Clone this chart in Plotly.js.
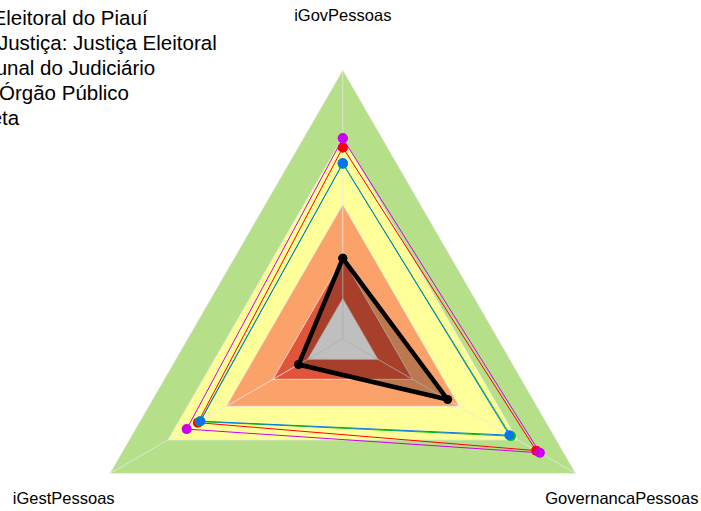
<!DOCTYPE html>
<html><head><meta charset="utf-8">
<script src="https://cdn.plot.ly/plotly-3.0.1.min.js"></script>
<style>html,body{margin:0;padding:0;overflow:hidden;background:#fff}#wrap{width:701px;height:511px;overflow:hidden;position:relative}</style>
</head><body><div id="wrap"><div id="chart"></div></div>
<script>
// axes (categories)
const categories = ['iGovPessoas', 'GovernancaPessoas', 'iGestPessoas'];
// series names (legend texts)
const seriesNames = [
  'Tribunal Regional Eleitoral do Piauí',
  'Média do ramo da Justiça: Justiça Eleitoral',
  'Média do tipo: Tribunal do Judiciário',
  'Natureza Jurídica: Órgão Público',
  'Valor desejado: Meta'
];
const seriesColors = ['#000000', '#FF0000', '#00C800', '#0A74F0', '#CC00EE'];
// series values, in the order of categories
const valuesTRE = [0.30, 0.45, 0.19];
const valuesJustica = [0.712, 0.83, 0.622];
const valuesTribunal = [0.652, 0.722, 0.614];
const valuesOrgao = [0.653, 0.715, 0.611];
const valuesMeta = [0.746, 0.846, 0.67];
// background bands (outer limit of each band)
const bandLimits = [1, 0.75, 0.5, 0.3, 0.15];
const bandColors = ['#B6DF8A', '#FFFF99', '#FBA16A', '#E0553A', '#FFFFFF'];
// radial position of the axis labels
const labelR = [1.198, 1.198, 1.198];

const seriesValues = [valuesTRE, valuesJustica, valuesTribunal, valuesOrgao, valuesMeta];
const closedTheta = categories.concat([categories[0]]);
const close = a => a.concat([a[0]]);

const traces = [];
// bands on the bottom polar subplot
bandLimits.forEach((b, i) => {
  traces.push({
    type: 'scatterpolar', subplot: 'polar', mode: 'lines',
    r: categories.map(() => b).concat([b]), theta: closedTheta,
    fill: 'toself', fillcolor: bandColors[i],
    line: {width: 0, color: bandColors[i]},
    hoverinfo: 'skip', showlegend: false
  });
});
// data on the middle polar subplot (its grid lies above the bands)
seriesValues.forEach((v, i) => {
  const isMain = i === 0;
  traces.push({
    type: 'scatterpolar', subplot: 'polar2', mode: 'lines+markers', name: seriesNames[i],
    r: close(v), theta: closedTheta,
    fill: isMain ? 'toself' : 'none',
    fillcolor: 'rgba(0,0,0,0.25)',
    line: {color: seriesColors[i], width: isMain ? 4.5 : 1},
    marker: {color: seriesColors[i], size: isMain ? 9 : 10},
    showlegend: false
  });
});
// axis labels drawn through a third (invisible) polar scale
traces.push({
  type: 'scatterpolar', subplot: 'polar3', mode: 'text',
  r: labelR, theta: categories,
  text: categories, textposition: 'middle center',
  textfont: {family: 'Liberation Sans, Arial, sans-serif', size: 16.5, color: '#000'},
  cliponaxis: false, hoverinfo: 'skip', showlegend: false
});

const W = 701, H = 670;
const cx = 342.8, cy = 339, R = 269, R2 = 1.2 * R;
const annotations = seriesNames.map((n, i) => ({
  xref: 'paper', yref: 'paper', x: -175 / W, xanchor: 'left',
  y: 1 - (17.5 + 25 * i) / H, yanchor: 'middle',
  text: n, showarrow: false, align: 'left',
  font: {family: 'Liberation Sans, Arial, sans-serif', size: 20.5, color: '#000'}
}));

const gridCol = 'rgba(232,232,232,0.8)';
const dom = {x: [(cx - R) / W, (cx + R) / W], y: [(H - cy - R) / H, (H - cy + R) / H]};
const angular = {
  type: 'category', categoryarray: categories, rotation: 90, direction: 'clockwise'
};
const layout = {
  width: W, height: H,
  margin: {l: 0, r: 0, t: 0, b: 0, pad: 0, autoexpand: false},
  paper_bgcolor: '#fff',
  showlegend: false,
  annotations: annotations,
  polar: {
    domain: dom, gridshape: 'linear', bgcolor: '#fff',
    radialaxis: {range: [0, 1], visible: false},
    angularaxis: Object.assign({visible: false}, angular)
  },
  polar2: {
    domain: dom, gridshape: 'linear', bgcolor: 'rgba(0,0,0,0)',
    radialaxis: {
      range: [0, 1], tickvals: bandLimits, showticklabels: false, ticks: '',
      showline: false, gridcolor: gridCol, gridwidth: 1
    },
    angularaxis: Object.assign({
      showticklabels: false, ticks: '', showline: true, linecolor: gridCol,
      gridcolor: gridCol
    }, angular)
  },
  polar3: {
    domain: {x: [(cx - R2) / W, (cx + R2) / W], y: [(H - cy - R2) / H, (H - cy + R2) / H]},
    gridshape: 'linear', bgcolor: 'rgba(0,0,0,0)',
    radialaxis: {range: [0, 1.2], visible: false},
    angularaxis: Object.assign({visible: false}, angular)
  }
};
Plotly.newPlot('chart', traces, layout, {staticPlot: true, displayModeBar: false});
</script></body></html>
